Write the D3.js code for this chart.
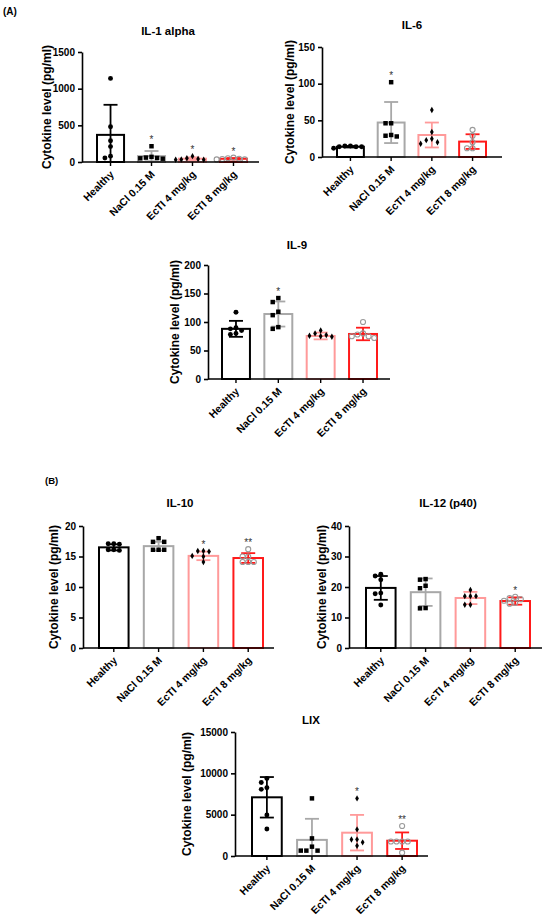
<!DOCTYPE html>
<html>
<head>
<meta charset="utf-8">
<script src="https://cdn.jsdelivr.net/npm/d3@7"></script>
<style>
  body { margin: 0; background: #fff; }
  svg text { font-family: "Liberation Sans", Arial, sans-serif; font-weight: bold; }
</style>
</head>
<body>
<svg width="550" height="924"></svg>
<script>
var groups = ["Healthy", "NaCl 0.15 M", "EcTI 4 mg/kg", "EcTI 8 mg/kg"];

// IL-1 alpha
var il1Points = [[1140, 480, 290, 210, 80, 55], [215, 70, 60, 55, 50, 45], [80, 50, 40, 35, 30, 30], [60, 50, 45, 40, 35, 35]];
var il1Mean = [370, 80, 45, 44];
var il1Sd = [410, 70, 18, 10];
var il1Ticks = [0, 500, 1000, 1500];
var il1Stars = ["", "*", "*", "*"];

// IL-6
var il6Points = [[15, 15, 14, 14, 14, 12], [102, 46, 46, 30, 29, 28], [64, 34, 25, 23, 20, 18], [37, 29, 20, 12, 12]];
var il6Mean = [14, 47, 30, 21];
var il6Sd = [1, 28, 17, 10];
var il6Ticks = [0, 50, 100, 150];
var il6Stars = ["", "*", "", ""];

// IL-9
var il9Points = [[117, 90, 88, 85, 80, 78], [142, 135, 118, 112, 91, 88], [85, 80, 77, 76, 75, 74], [100, 80, 78, 75, 75, 72]];
var il9Mean = [88, 114, 75.5, 79];
var il9Sd = [14, 22, 6, 11];
var il9Ticks = [0, 50, 100, 150, 200];
var il9Stars = ["", "*", "", ""];

// IL-10
var il10Points = [[17.1, 17.1, 17.0, 16.1, 16.0, 16.1], [18.0, 17.4, 17.4, 16.1, 16.1, 16.1], [15.9, 15.9, 15.8, 15.1, 15.0, 14.1], [16.2, 15.0, 15.0, 14.1, 14.1, 14.1]];
var il10Mean = [16.5, 16.7, 15.1, 14.75];
var il10Sd = [0.5, 0.7, 0.7, 0.8];
var il10Ticks = [0, 5, 10, 15, 20];
var il10Stars = ["", "", "*", "**"];

// IL-12 (p40)
var il12Points = [[24.2, 23.6, 22.4, 18.0, 17.8, 14.1], [22.6, 22.4, 20.4, 19.6, 13.1, 13.0], [19.0, 17.0, 17.0, 17.0, 14.2, 14.2], [16.8, 16.4, 16.0, 15.5, 14.8, 14.5]];
var il12Mean = [19.7, 18.3, 16.4, 15.4];
var il12Sd = [3.9, 4.5, 2.0, 1.2];
var il12Ticks = [0, 10, 20, 30, 40];
var il12Stars = ["", "", "", "*"];

// LIX
var lixPoints = [[9390, 8900, 8260, 8060, 4960, 3270], [6970, 2130, 1130, 650, 650, 650], [6970, 3220, 2010, 2000, 1650, 1250], [3630, 1750, 1750, 1750, 1750, 400]];
var lixMean = [7100, 1950, 2820, 1850];
var lixSd = [2450, 2550, 2150, 1000];
var lixTicks = [0, 5000, 10000, 15000];
var lixStars = ["", "", "*", "**"];

var barColor = ["#000000", "#a8a8a8", "#ff9a9a", "#ff1a1a"];

var svg = d3.select('svg');

// panel letters
svg.append('text').text('(A)').attr('x', 3).attr('y', 15).style('font-size', '10px');
svg.append('text').text('(B)').attr('x', 45).attr('y', 484).style('font-size', '9.5px');

var panels = [
    {title: "IL-1 alpha", pts: il1Points, mean: il1Mean, sd: il1Sd, ticks: il1Ticks, stars: il1Stars,
     axisX: 82, yTop: 52, yZero: 162, bandStart: 97, bandEnd: 247, axisEnd: 259, titleX: 168, titleY: 35, labelX: 47},
    {title: "IL-6", pts: il6Points, mean: il6Mean, sd: il6Sd, ticks: il6Ticks, stars: il6Stars,
     axisX: 322, yTop: 47, yZero: 157, bandStart: 337, bandEnd: 486, axisEnd: 502, titleX: 412, titleY: 29, labelX: 290},
    {title: "IL-9", pts: il9Points, mean: il9Mean, sd: il9Sd, ticks: il9Ticks, stars: il9Stars,
     axisX: 208, yTop: 265, yZero: 379, bandStart: 222, bandEnd: 377, axisEnd: 390, titleX: 297, titleY: 249, labelX: 175},
    {title: "IL-10", pts: il10Points, mean: il10Mean, sd: il10Sd, ticks: il10Ticks, stars: il10Stars,
     axisX: 83, yTop: 526, yZero: 648, bandStart: 99, bandEnd: 263, axisEnd: 274, titleX: 180, titleY: 507, labelX: 54},
    {title: "IL-12 (p40)", pts: il12Points, mean: il12Mean, sd: il12Sd, ticks: il12Ticks, stars: il12Stars,
     axisX: 349, yTop: 526, yZero: 648, bandStart: 366, bandEnd: 530, axisEnd: 542, titleX: 448, titleY: 507, labelX: 322},
    {title: "LIX", pts: lixPoints, mean: lixMean, sd: lixSd, ticks: lixTicks, stars: lixStars,
     axisX: 235, yTop: 732, yZero: 856, bandStart: 252, bandEnd: 417, axisEnd: 428, titleX: 311, titleY: 724, labelX: 187}
];

panels.forEach(drawPanel);

// spreads overlapping points sideways, like the scatter in the original
function swarm(values, y, gap) {
    var placed = [];
    var sorted = values.map(function(v){ return {v: v, py: y(v)}; })
        .sort(function(a, b){ return a.py - b.py; });
    sorted.forEach(function(p){
        for (var k = 0; k < 30; k++) {
            var off = k === 0 ? 0 : (k % 2 ? -1 : 1) * Math.ceil(k / 2) * gap;
            var hit = placed.some(function(q){
                var dx = q.dx - off, dy = q.py - p.py;
                return dx * dx + dy * dy < gap * gap * 0.9;
            });
            if (!hit) { p.dx = off; placed.push(p); break; }
        }
    });
    return sorted;
}

function drawPanel(p) {
    var g = svg.append('g');
    var y = d3.scaleLinear().domain([0, d3.max(p.ticks)]).range([p.yZero, p.yTop]);
    var x = d3.scaleBand().domain(groups).range([p.bandStart, p.bandEnd]).paddingInner(0.34);

    // title + y label
    g.append('text').text(p.title)
        .attr('x', p.titleX).attr('y', p.titleY)
        .style('text-anchor', 'middle').style('font-size', '11.5px');

    g.append('text').text('Cytokine level (pg/ml)')
        .attr('transform', 'translate(' + p.labelX + ',' + ((p.yTop + p.yZero) / 2) + ')rotate(-90)')
        .attr('dy', '0.35em')
        .style('text-anchor', 'middle').style('font-size', '12px');

    // bars
    g.selectAll('.bar').data(groups).enter().append('rect')
        .attr('x', function(d){ return x(d); })
        .attr('width', x.bandwidth())
        .attr('y', function(d, i){ return y(p.mean[i]); })
        .attr('height', function(d, i){ return p.yZero - y(p.mean[i]); })
        .attr('fill', 'none')
        .attr('stroke', function(d, i){ return barColor[i]; })
        .attr('stroke-width', 2);

    // error bars (mean +- SD)
    groups.forEach(function(grp, i){
        var cx = x(grp) + x.bandwidth() / 2;
        var lo = Math.max(0, p.mean[i] - p.sd[i]);
        var hi = p.mean[i] + p.sd[i];
        var eb = g.append('g').attr('stroke', barColor[i]).attr('stroke-width', 1.8);
        eb.append('line').attr('x1', cx).attr('x2', cx).attr('y1', y(lo)).attr('y2', y(hi));
        eb.append('line').attr('x1', cx - 7).attr('x2', cx + 7).attr('y1', y(hi)).attr('y2', y(hi));
        if (lo > 0) {
            eb.append('line').attr('x1', cx - 7).attr('x2', cx + 7).attr('y1', y(lo)).attr('y2', y(lo));
        }
    });

    // points
    var shapes = [d3.symbolCircle, d3.symbolSquare, d3.symbolDiamond, d3.symbolCircle];
    var sizes = [19, 20, 12, 20];
    groups.forEach(function(grp, i){
        var cx = x(grp) + x.bandwidth() / 2;
        var pts = swarm(p.pts[i], y, 5.6);
        g.selectAll(null).data(pts).enter().append('path')
            .attr('d', d3.symbol().type(shapes[i]).size(sizes[i]))
            .attr('transform', function(d){ return 'translate(' + (cx + d.dx) + ',' + d.py + ')'; })
            .attr('fill', i === 3 ? 'none' : '#000')
            .attr('stroke', i === 3 ? '#9a9a9a' : 'none')
            .attr('stroke-width', 1.1);

        if (p.stars[i]) {
            var top = Math.min(y(d3.max(p.pts[i])), y(p.mean[i] + p.sd[i]));
            g.append('text').text(p.stars[i])
                .attr('x', cx).attr('y', top - 3)
                .style('text-anchor', 'middle').style('font-size', '10px')
                .style('font-weight', 'normal').attr('fill', '#333');
        }
    });

    // y axis
    var ya = g.append('g')
        .attr('transform', 'translate(' + p.axisX + ',0)')
        .call(d3.axisLeft(y).tickValues(p.ticks).tickSize(4).tickSizeOuter(0).tickFormat(d3.format('d')));
    ya.selectAll('text').style('font-size', '10px').attr('fill', '#000');
    ya.selectAll('line,path').attr('stroke', '#000').attr('stroke-width', 1.6);

    // x axis
    g.append('line')
        .attr('x1', p.axisX).attr('x2', p.axisEnd)
        .attr('y1', p.yZero).attr('y2', p.yZero)
        .attr('stroke', '#000').attr('stroke-width', 1.6);

    var xa = g.append('g')
        .attr('transform', 'translate(0,' + p.yZero + ')')
        .call(d3.axisBottom(x).tickSize(4));
    xa.select('.domain').remove();
    xa.selectAll('line').attr('stroke', '#000').attr('stroke-width', 1.4);
    xa.selectAll('text')
        .attr('y', 0).attr('x', 0).attr('dy', 0)
        .attr('transform', 'translate(4,13)rotate(-45)')
        .style('text-anchor', 'end').style('font-size', '10.5px').attr('fill', '#000');
}
</script>
</body>
</html>
